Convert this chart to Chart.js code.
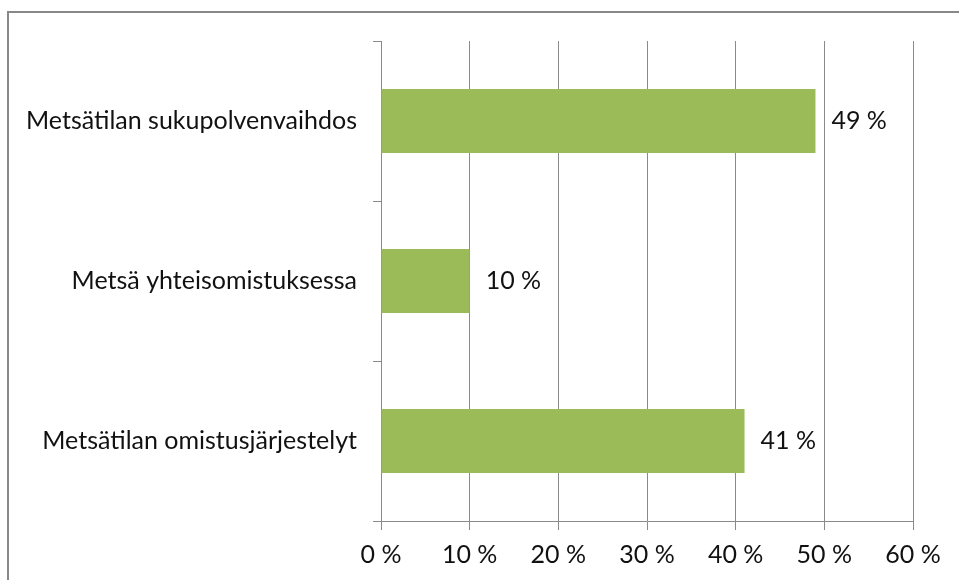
<!DOCTYPE html>
<html>
<head>
<meta charset="utf-8">
<script src="https://cdn.jsdelivr.net/npm/chart.js@4/dist/chart.umd.min.js"></script>
<style>
  html, body { margin: 0; padding: 0; background: #fff; }
  #wrap { position: relative; width: 959px; height: 580px; overflow: hidden; }
  #frame {
    position: absolute; left: 7px; top: 11px; width: 1000px; height: 600px;
    border-left: 2px solid #888; border-top: 2px solid #888;
  }
  canvas { position: absolute; left: 0; top: 0; }
</style>
</head>
<body>
<div id="wrap">
  <div id="frame"></div>
  <canvas id="chart" width="959" height="580"></canvas>
</div>
<script>
const categories = [
    "Metsätilan sukupolvenvaihdos",
    "Metsä yhteisomistuksessa",
    "Metsätilan omistusjärjestelyt"
];
const shares = [49, 10, 41];
const tickValues = [0, 10, 20, 30, 40, 50, 60];

const fontFamily = "Lato, 'Open Sans', sans-serif";
const fontSize = 25;

// arvot palkkien perään
const valueLabels = {
    id: "valueLabels",
    afterDatasetsDraw(chart) {
        const ctx = chart.ctx;
        const meta = chart.getDatasetMeta(0);
        ctx.save();
        ctx.font = fontSize + "px " + fontFamily;
        ctx.fillStyle = "#111";
        ctx.textAlign = "left";
        ctx.textBaseline = "middle";
        meta.data.forEach((bar, i) => {
            ctx.fillText(shares[i] + " %", bar.x + 16, bar.y);
        });
        ctx.restore();
    }
};

new Chart(document.getElementById("chart").getContext("2d"), {
    type: "bar",
    data: {
        labels: categories,
        datasets: [{
            data: shares,
            backgroundColor: "#9BBB59",
            borderWidth: 0,
            barPercentage: 0.4,
            categoryPercentage: 1
        }]
    },
    plugins: [valueLabels],
    options: {
        indexAxis: "y",
        responsive: false,
        animation: false,
        layout: { padding: { top: 41, right: 46, left: 0, bottom: 0 } },
        plugins: {
            legend: { display: false },
            tooltip: { enabled: false }
        },
        scales: {
            x: {
                min: 0,
                max: 60,
                afterBuildTicks: (axis) => {
                    axis.ticks = tickValues.map(v => ({ value: v }));
                },
                afterFit: (axis) => { axis.height = 59; },
                grid: {
                    color: "#8a8a8a",
                    lineWidth: 1,
                    tickLength: 9
                },
                border: { color: "#8a8a8a", width: 1 },
                ticks: {
                    color: "#111",
                    font: { family: fontFamily, size: fontSize },
                    padding: 10,
                    callback: (v) => v + " %"
                }
            },
            y: {
                offset: true,
                afterFit: (axis) => { axis.width = 381; },
                grid: {
                    offset: true,
                    drawOnChartArea: false,
                    color: "#8a8a8a",
                    tickLength: 8
                },
                border: { color: "#8a8a8a", width: 1 },
                ticks: {
                    color: "#111",
                    font: { family: fontFamily, size: fontSize },
                    padding: 16
                }
            }
        }
    }
});
</script>
</body>
</html>
